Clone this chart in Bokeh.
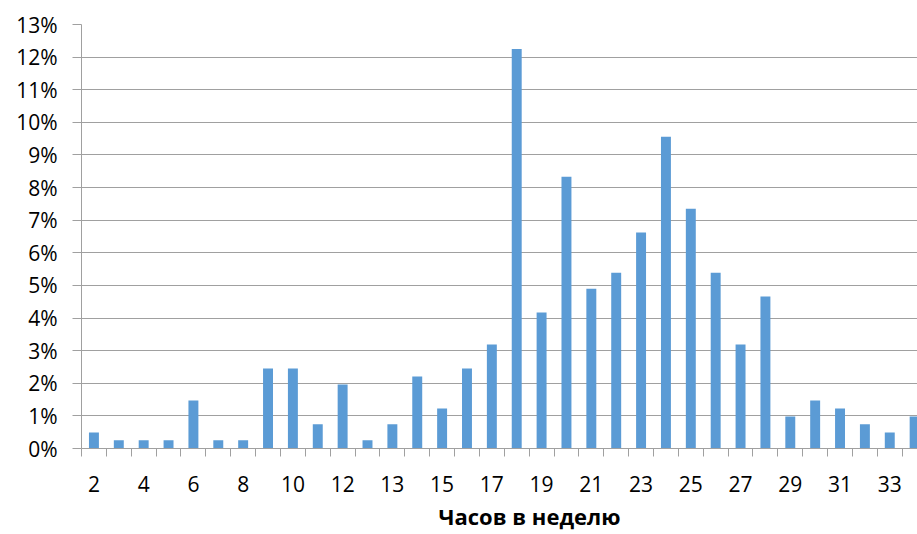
from bokeh.plotting import figure
from bokeh.models import FixedTicker, PrintfTickFormatter, Range1d, Title, ColumnDataSource
from bokeh.embed import file_html
from bokeh.resources import INLINE

categories = ["2", "3", "4", "5", "6", "7", "8", "9", "10", "11", "12", "12,5",
              "13", "14", "15", "16", "17", "18", "19", "20", "21", "22", "23",
              "24", "25", "26", "27", "28", "29", "30", "31", "32", "33", "34"]
values = [0.49, 0.25, 0.25, 0.25, 1.47, 0.25, 0.25, 2.45, 2.45, 0.74, 1.96, 0.25,
          0.74, 2.21, 1.23, 2.45, 3.19, 12.25, 4.17, 8.33, 4.90, 5.39, 6.62,
          9.56, 7.35, 5.39, 3.19, 4.66, 0.98, 1.47, 1.23, 0.74, 0.49, 0.98]
y_ticks = list(range(0, 14))
x_title = "Часов в неделю"

FONT = "Open Sans"
GRID = "#A0A0A0"

idx = list(range(len(categories)))
src = ColumnDataSource(dict(x=idx, top=values, cat=categories))

p = figure(width=917, height=534, output_backend="svg", toolbar_location=None,
           x_range=Range1d(-0.5, 33.115), y_range=Range1d(0, 13),
           min_border_left=81, min_border_right=0, min_border_top=24,
           min_border_bottom=81)
p.outline_line_color = None
p.background_fill_color = "white"

p.vbar(x="x", top="top", width=0.4, bottom=0, source=src,
       fill_color="#5B9BD5", line_color=None)

# y axis
p.yaxis.ticker = FixedTicker(ticks=y_ticks)
p.yaxis.formatter = PrintfTickFormatter(format="%d%%")
p.yaxis.axis_line_color = GRID
p.yaxis.major_tick_line_color = GRID
p.yaxis.major_tick_out = 9
p.yaxis.major_tick_in = 0
p.yaxis.minor_tick_line_color = None
p.yaxis.major_label_standoff = 15
p.yaxis.major_label_text_font = FONT
p.yaxis.major_label_text_font_size = "21px"
p.yaxis.major_label_text_color = "black"

# x axis
label_ticks = idx[::2]
p.xaxis.ticker = FixedTicker(ticks=label_ticks, minor_ticks=[i - 0.5 for i in range(len(categories) + 1)])
p.xaxis.major_label_overrides = {i: categories[i] for i in label_ticks}
p.xaxis.axis_line_color = GRID
p.xaxis.major_tick_line_color = None
p.xaxis.major_tick_out = 8
p.xaxis.major_tick_in = 0
p.xaxis.minor_tick_line_color = GRID
p.xaxis.minor_tick_out = 8
p.xaxis.minor_tick_in = 0
p.xaxis.major_label_standoff = 19
p.xaxis.major_label_text_font = FONT
p.xaxis.major_label_text_font_size = "21px"
p.xaxis.major_label_text_color = "black"

p.xgrid.grid_line_color = None
p.ygrid.grid_line_color = GRID
p.ygrid.grid_line_width = 1

t = Title(text=x_title, align="left", offset=357, text_font=FONT,
          text_font_size="22px", text_font_style="bold", text_color="black",
          standoff=8)
p.add_layout(t, "below")

open("out.html", "w").write(file_html(p, INLINE))
